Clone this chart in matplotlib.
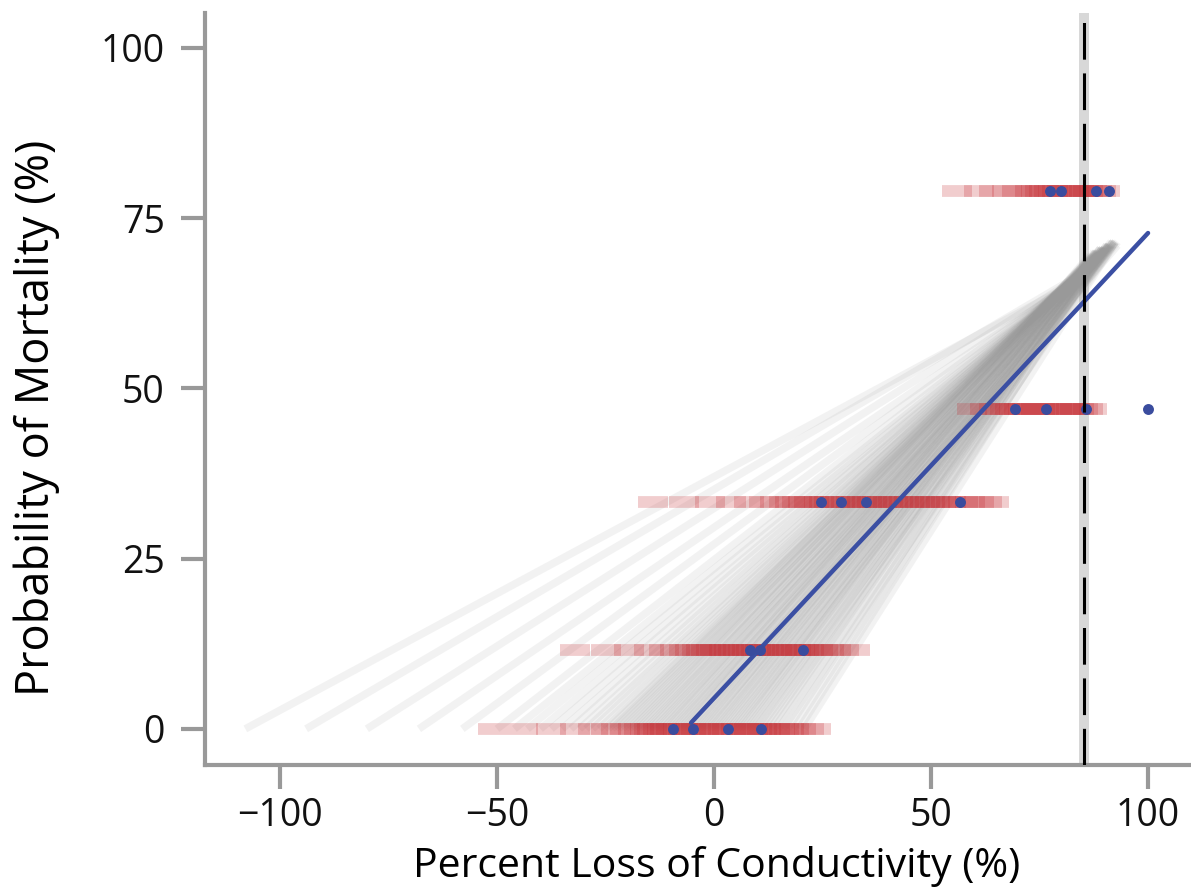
import numpy as np
import matplotlib.pyplot as plt

plt.rcParams['font.family'] = ['Open Sans', 'DejaVu Sans']

# posterior draws of the regression line: start x (at y ~ 0) and end point
line_x0 = [-108, -94, -80, -68, -58, -50,
           -46, -43, -40, -37.5, -35, -33, -31, -29.5, -28, -26.5,
           -25.2, -24.4, -23.5, -22.8, -22, -21.1, -20.4, -19.6, -18.9, -18.1,
           -17.4, -16.7, -15.9, -15.2, -14.6, -13.8, -13.1, -12.5, -11.8, -11.1,
           -10.5, -9.8, -9.2, -8.5, -7.9, -7.2, -6.6, -5.9, -5.3, -4.7,
           -4.1, -3.4, -2.8, -2.2, -1.6, -0.9, -0.3, 0.3, 0.9, 1.6,
           2.2, 2.9, 3.5, 4.2, 4.8, 5.5, 6.1, 6.8, 7.5, 8.2,
           8.9, 9.6, 10.4, 11.2, 12, 12.9, 13.8, 14.8, 15.9, 17,
           18.3, 19.6, 20.8]
line_x1 = [86, 86.5, 88, 86, 88.5, 86,
           89, 87, 88, 86.5, 89.5, 87, 88, 90, 86.5, 88.5,
           89, 87.5, 90.5, 88, 86, 89, 91, 87.5, 88.5, 90,
           86.5, 89.5, 91.5, 88, 87, 90, 92, 88.5, 89, 91,
           87.5, 90.5, 92.5, 88, 89.5, 91, 86.5, 90, 92, 88.5,
           91.5, 89, 93, 87.5, 90.5, 92, 88, 91, 89.5, 92.5,
           90, 88.5, 91.5, 93, 89, 90.5, 92, 88, 91, 89.5,
           92.5, 90, 91.5, 89, 92, 90.5, 88.5, 91, 92.5, 89.5,
           91, 90, 92]
line_y1 = [66.5, 67.5, 68, 67, 68.5, 67.5,
           69, 68, 68.5, 68, 69.5, 68.5, 69, 70, 68.5, 69.5,
           70, 69, 70.5, 69.5, 68.5, 70, 71, 69.5, 70, 70.5,
           69, 70.5, 71, 70, 69.5, 70.5, 71.5, 70, 70.5, 71,
           69.5, 70.5, 71.5, 70, 70.5, 71, 69.5, 70.5, 71, 70,
           71.5, 70.5, 71, 70, 71, 71.5, 70, 71, 70.5, 71.5,
           70.5, 70, 71, 71.5, 70.5, 71, 71.5, 70, 71, 70.5,
           71.5, 70.5, 71, 70, 71.5, 70.5, 70, 71, 71.5, 70.5,
           71, 70.5, 71]

# posterior draws of the latent conductivity loss, one row per mortality level
row_levels = [0.0, 11.6, 33.3, 47.0, 78.9]
draws_row0 = [-51, -44, -37.5, -32, -28, -25, -22.6, -20.5,
              -18.6, -17.2, -16, -15.1, -14.2, -13, -12.1, -11.2, -10, -9.1,
              -8.2, -7.1, -6, -5.2, -4.1, -3, -2.2, -1.1, 0, 0.9, 2.1, 3, 3.9,
              5, 6.1, 7, 8.1, 9, 10, 11.1, 12, 13.1, 14, 15.2, 16.1, 17.2,
              18.5, 20, 21.8, 23.5]
draws_row1 = [-32, -25, -19.5, -15, -11.5, -9, -7, -5.5, -4, -3, -1.9, -0.8,
              0.2, 1.3, 2.4, 3.5, 4.4, 5.5, 6.6, 7.6, 8.5, 9.6, 10.6, 11.5,
              12.6, 13.7, 14.6, 15.7, 16.8, 17.7, 18.8, 19.9, 20.8, 21.9, 23,
              24, 25.1, 26.4, 28, 30, 32.5]
draws_row2 = [-14, -7, -1, 4, 8, 11.5, 14, 16.1, 17.6, 19, 20.5, 21.8, 23,
              24.2, 25.4, 26.6, 27.9, 29.1, 30.3, 31.5, 32.7, 34, 35.2, 36.4,
              37.6, 38.8, 40.1, 41.3, 42.5, 43.7, 44.9, 46.2, 47.4, 48.6, 49.8,
              51, 52.3, 53.5, 54.7, 55.9, 57.3, 59, 61, 63, 64.5]
draws_row3 = [59.5, 62.5, 64.5, 66, 67.1, 68.2, 69.1, 70.2, 71.1, 72.1, 73.2,
              74.1, 75.2, 76.1, 77.2, 78.1, 79.1, 80.2, 81.1, 82.2, 83.1, 84.2,
              85.1, 86.1, 87]
draws_row4 = [56, 61, 64.5, 67.5, 69.8, 71.5, 72.8, 74.1, 75.2, 76.1, 77.1,
              78.2, 79.1, 80.2, 81.1, 82.1, 83.2, 84.1, 85.2, 86.1, 87.1, 88.2,
              89.1, 90]
row_draws = [draws_row0, draws_row1, draws_row2, draws_row3, draws_row4]

# observed data
obs_x = [-9.4, -4.8, 3.2, 10.8, 8.3, 10.6, 20.5, 24.7, 29.3, 35.0, 56.7,
         69.4, 76.5, 85.7, 100.0, 77.5, 80.0, 88.0, 91.0]
obs_y = [0, 0, 0, 0, 11.6, 11.6, 11.6, 33.3, 33.3, 33.3, 33.3,
         47, 47, 47, 47, 78.9, 78.9, 78.9, 78.9]

# posterior mean fit
mean_x = [-5.3, 100]
mean_y = [0.9, 72.8]

# threshold and its interval
thresh = 85.2
thresh_lo, thresh_hi = 84.0, 86.5

fig = plt.figure(figsize=(11.91, 8.92), dpi=100)
ax = fig.add_axes([0.1721, 0.1424, 0.8279, 0.8430])

ax.axvspan(thresh_lo, thresh_hi, color='#d8d8d8', lw=0, zorder=0)

for x0, x1, y1 in zip(line_x0, line_x1, line_y1):
    ax.plot([x0, x1], [0, y1], color='#999999', lw=5.5, alpha=0.12,
            solid_capstyle='butt', zorder=1)

# each draw as a soft bar so the row reads as a smear
for lvl, xs in zip(row_levels, row_draws):
    ax.plot(xs, [lvl] * len(xs), ls='none', marker='_', markersize=22,
            markeredgewidth=8.5, color='#c4282e', alpha=0.23, zorder=2)

ax.plot(mean_x, mean_y, color='#3b4fa3', lw=3.2, solid_capstyle='round', zorder=3)
ax.scatter(obs_x, obs_y, s=62, color='#3a4c9e', lw=0, zorder=4)

ax.axvline(thresh, color='black', lw=2.2, dashes=(12, 4.5), zorder=5)

ax.set_xlim(-117.3, 109.9)
ax.set_ylim(-5.3, 105.1)
ax.set_xticks([-100, -50, 0, 50, 100])
ax.set_yticks([0, 25, 50, 75, 100])

for side in ['top', 'right']:
    ax.spines[side].set_visible(False)
for side in ['left', 'bottom']:
    ax.spines[side].set_color('#999999')
    ax.spines[side].set_linewidth(3)
ax.tick_params(axis='both', length=17, width=3, color='#999999',
               labelsize=27, labelcolor='#111111')
ax.tick_params(axis='y', pad=12)
ax.tick_params(axis='x', pad=6)

ax.set_xlabel('Percent Loss of Conductivity (%)', fontsize=29.5)
ax.set_ylabel('Probability of Mortality (%)', fontsize=32.5)
ax.xaxis.set_label_coords(0.519, -0.108)
ax.yaxis.set_label_coords(-0.147, 0.462)

fig.savefig('out.png', dpi=100)
